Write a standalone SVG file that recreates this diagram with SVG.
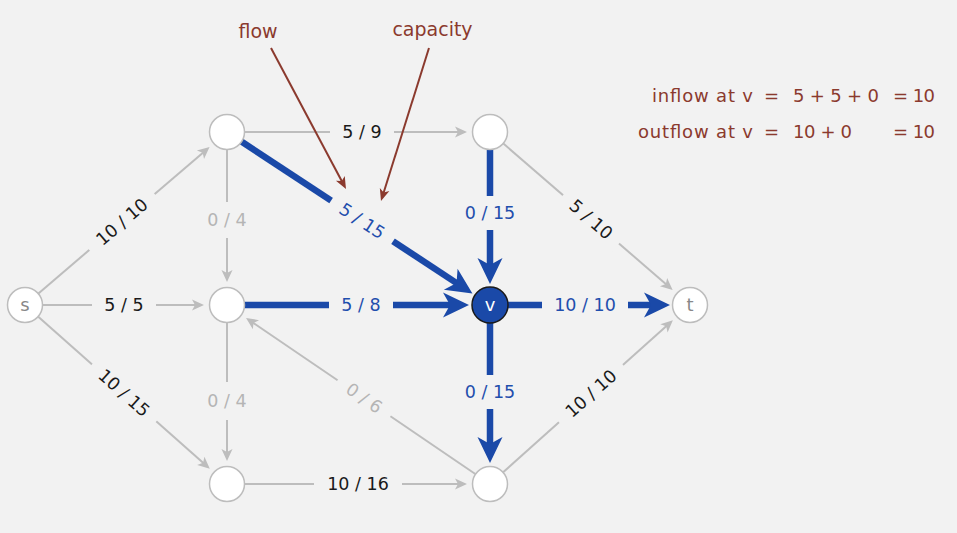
<svg xmlns="http://www.w3.org/2000/svg" width="957" height="533" viewBox="0 0 957 533">
<style>
.g{stroke:#bdbdbd;stroke-width:2;fill:none}
.b{stroke:#1a49a8;stroke-width:6.5;fill:none}
.r{stroke:#8b3a2e;stroke-width:2;fill:none}
.bg{fill:#f2f2f2}
.t{font-family:"DejaVu Sans",sans-serif;font-size:17.5px;text-anchor:middle}
.tk{fill:#1a1a1a}
.tb{fill:#1f4ead}
.tl{fill:#b5b5b5}
.n{fill:#ffffff;stroke:#bdbdbd;stroke-width:1.5}
.nl{font-family:"DejaVu Sans",sans-serif;font-size:18px;fill:#888888;text-anchor:middle}
.a{font-family:"DejaVu Sans",sans-serif;font-size:19px;fill:#8b3a2e}
.e{font-family:"DejaVu Sans",sans-serif;font-size:18px;fill:#8b3a2e}
</style>
<defs>
<marker id="ag" viewBox="-13 -7 14 14" refX="-6" refY="0" markerWidth="14" markerHeight="14" orient="auto" markerUnits="userSpaceOnUse"><path d="M0,0 L-12,-5.5 L-9,0 L-12,5.5 Z" fill="#bdbdbd"/></marker>
<marker id="ab" viewBox="-28 -14 30 28" refX="-18" refY="0" markerWidth="30" markerHeight="28" orient="auto" markerUnits="userSpaceOnUse"><path d="M0,0 L-26,-12.5 L-19,0 L-26,12.5 Z" fill="#1a49a8"/></marker>
<marker id="ar" viewBox="-13 -7 14 14" refX="-4" refY="0" markerWidth="14" markerHeight="14" orient="auto" markerUnits="userSpaceOnUse"><path d="M0,0 L-12,-5 L-9,0 L-12,5 Z" fill="#8b3a2e"/></marker>
</defs>
<rect width="957" height="533" fill="#f2f2f2"/>
<g id="connectors">
<line class="g" x1="25" y1="305" x2="205" y2="150.9" marker-end="url(#ag)"/>
<line class="g" x1="25" y1="305" x2="198" y2="305" marker-end="url(#ag)"/>
<line class="g" x1="25" y1="305" x2="205.3" y2="464.8" marker-end="url(#ag)"/>
<line class="g" x1="227" y1="132" x2="461" y2="132" marker-end="url(#ag)"/>
<line class="g" x1="227" y1="132" x2="227" y2="276" marker-end="url(#ag)"/>
<line class="g" x1="227" y1="305" x2="227" y2="455" marker-end="url(#ag)"/>
<line class="g" x1="490" y1="132" x2="668.1" y2="286" marker-end="url(#ag)"/>
<line class="g" x1="227" y1="484" x2="461" y2="484" marker-end="url(#ag)"/>
<line class="g" x1="490" y1="484" x2="668.4" y2="324.3" marker-end="url(#ag)"/>
<line class="g" x1="490" y1="484" x2="251" y2="321.3" marker-end="url(#ag)"/>
<line class="b" x1="227" y1="132" x2="457.4" y2="283.6" marker-end="url(#ab)"/>
<line class="b" x1="490" y1="132" x2="490" y2="266" marker-end="url(#ab)"/>
<line class="b" x1="227" y1="305" x2="451" y2="305" marker-end="url(#ab)"/>
<line class="b" x1="490" y1="305" x2="652" y2="305" marker-end="url(#ab)"/>
<line class="b" x1="490" y1="305" x2="490" y2="445" marker-end="url(#ab)"/>
<g transform="translate(122,222) rotate(-40.6)"><rect class="bg" x="-43" y="-10" width="86" height="20"/><text class="t tk" y="6">10 / 10</text></g>
<g transform="translate(124,305)"><rect class="bg" x="-32" y="-10" width="64" height="20"/><text class="t tk" y="6">5 / 5</text></g>
<g transform="translate(124,393) rotate(41.5)"><rect class="bg" x="-43" y="-10" width="86" height="20"/><text class="t tk" y="6">10 / 15</text></g>
<g transform="translate(362,132)"><rect class="bg" x="-32" y="-10" width="64" height="20"/><text class="t tk" y="6">5 / 9</text></g>
<g transform="translate(227,220)"><rect class="bg" x="-32" y="-18" width="64" height="36"/><text class="t tl" y="6">0 / 4</text></g>
<g transform="translate(362,221) rotate(33.3)"><rect class="bg" x="-37" y="-10" width="74" height="20"/><text class="t tb" y="6">5 / 15</text></g>
<g transform="translate(490,213)"><rect class="bg" x="-37" y="-17" width="74" height="34"/><text class="t tb" y="6">0 / 15</text></g>
<g transform="translate(591,219.4) rotate(40.9)"><rect class="bg" x="-37" y="-10" width="74" height="20"/><text class="t tk" y="6">5 / 10</text></g>
<g transform="translate(361,305)"><rect class="bg" x="-32" y="-10" width="64" height="20"/><text class="t tb" y="6">5 / 8</text></g>
<g transform="translate(585,305)"><rect class="bg" x="-43" y="-10" width="86" height="20"/><text class="t tb" y="6">10 / 10</text></g>
<g transform="translate(490,392)"><rect class="bg" x="-37" y="-17" width="74" height="34"/><text class="t tb" y="6">0 / 15</text></g>
<g transform="translate(227,401)"><rect class="bg" x="-32" y="-19" width="64" height="38"/><text class="t tl" y="6">0 / 4</text></g>
<g transform="translate(364,398.2) rotate(34.2)"><rect class="bg" x="-32" y="-10" width="64" height="20"/><text class="t tl" y="6">0 / 6</text></g>
<g transform="translate(358,484)"><rect class="bg" x="-44" y="-10" width="88" height="20"/><text class="t tk" y="6">10 / 16</text></g>
<g transform="translate(591,393.6) rotate(-41.8)"><rect class="bg" x="-43" y="-10" width="86" height="20"/><text class="t tk" y="6">10 / 10</text></g>
</g>
<g id="node-s"><circle class="n" cx="25" cy="305" r="17.5"/><text class="nl" x="25" y="311">s</text></g>
<g id="node-a"><circle class="n" cx="227" cy="132" r="17.5"/></g>
<g id="node-b"><circle class="n" cx="227" cy="305" r="17.5"/></g>
<g id="node-c"><circle class="n" cx="227" cy="484" r="17.5"/></g>
<g id="node-d"><circle class="n" cx="490" cy="132" r="17.5"/></g>
<g id="node-v"><circle cx="490" cy="305" r="18" fill="#1a49a8" stroke="#1a1a1a" stroke-width="1.5"/><text class="nl" x="490" y="311" style="fill:#ffffff">v</text></g>
<g id="node-e"><circle class="n" cx="490" cy="484" r="17.5"/></g>
<g id="node-t"><circle class="n" cx="690" cy="305" r="17.5"/><text class="nl" x="690" y="311">t</text></g>
<g id="annotations">
<text class="a" x="258" y="38" text-anchor="middle">flow</text>
<text class="a" x="432.5" y="36" text-anchor="middle">capacity</text>
<line class="r" x1="271" y1="48" x2="344.1" y2="185.5" marker-end="url(#ar)"/>
<line class="r" x1="429" y1="48" x2="382.2" y2="197.2" marker-end="url(#ar)"/>
<text class="e" x="652" y="102" textLength="101" lengthAdjust="spacing">inflow at v</text>
<text class="e" x="771.5" y="102" text-anchor="middle">=</text>
<text class="e" x="793" y="102" textLength="86" lengthAdjust="spacing">5 + 5 + 0</text>
<text class="e" x="893" y="102" textLength="42" lengthAdjust="spacing">= 10</text>
<text class="e" x="638" y="138" textLength="115" lengthAdjust="spacing">outflow at v</text>
<text class="e" x="771.5" y="138" text-anchor="middle">=</text>
<text class="e" x="793" y="138" textLength="59" lengthAdjust="spacing">10 + 0</text>
<text class="e" x="893" y="138" textLength="42" lengthAdjust="spacing">= 10</text>
</g>
</svg>
